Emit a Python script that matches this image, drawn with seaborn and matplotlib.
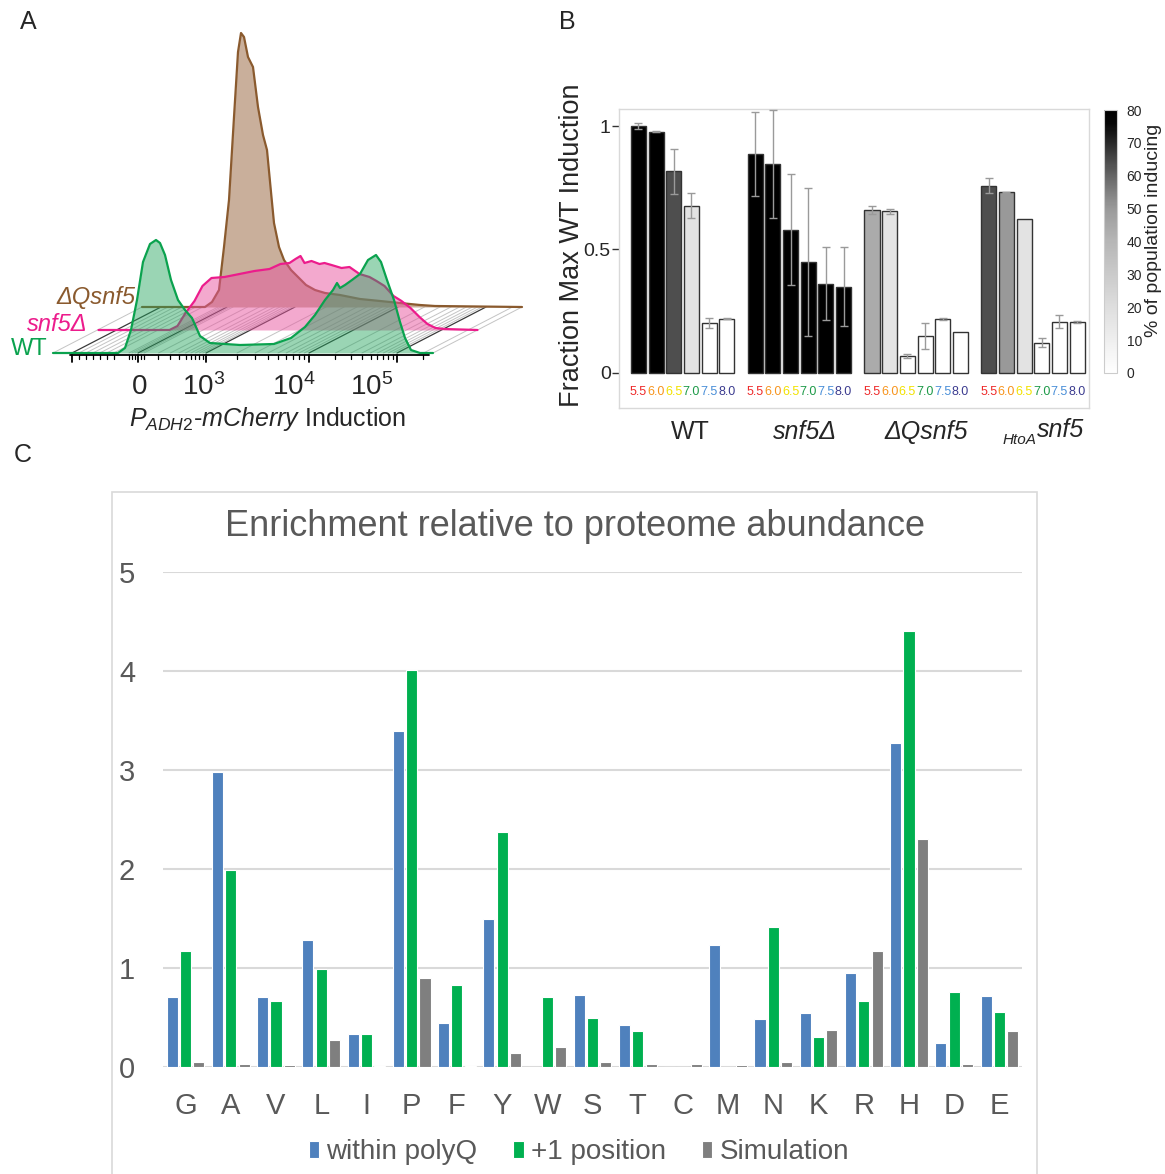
import numpy as np
import pandas as pd
import matplotlib
matplotlib.use("Agg")
import matplotlib.pyplot as plt
import seaborn as sns
from matplotlib.colors import LinearSegmentedColormap, Normalize
from matplotlib.cm import ScalarMappable
from matplotlib.patches import Rectangle

# ---------------- Panel A data (flow histograms, display channel vs. events) ----------------
wt_channel = [0, 65, 72, 78, 84, 90, 97, 103, 107, 112, 118, 125, 132, 139, 147, 157, 187, 221,
              238, 252, 262, 272, 280, 284, 287, 292, 299, 307, 315, 323, 328, 334, 341, 347,
              352, 358, 367, 380]
wt_counts = [0, 0, 5, 23, 53, 91, 109, 113, 110, 98, 73, 53, 43, 35, 17, 10, 8, 9,
             15, 26, 38, 53, 63, 70, 65, 68, 73, 79, 93, 98, 91, 73, 53, 31,
             15, 3, 0, 0]
snf5_channel = [1, 72, 80, 88, 97, 105, 114, 127, 142, 157, 172, 183, 192, 198, 203, 207, 214,
                222, 227, 234, 244, 252, 262, 272, 279, 287, 296, 304, 313, 322, 330, 338, 347, 380]
snf5_counts = [0, 0, 4, 17, 29, 44, 52, 53, 56, 59, 61, 66, 67, 71, 74, 67, 69,
               66, 67, 65, 62, 63, 56, 53, 49, 44, 34, 29, 22, 13, 6, 2, 1, 0]
dq_channel = [0, 63, 70, 77, 82, 87, 92, 96, 99, 102, 106, 111, 116, 121, 125, 129, 132, 137,
              142, 149, 156, 164, 173, 183, 198, 218, 238, 258, 278, 293, 380]
dq_counts = [0, 0, 5, 17, 60, 107, 190, 255, 274, 270, 250, 240, 200, 172, 157, 115, 84, 60,
             47, 37, 30, 22, 17, 14, 12, 8, 6, 4, 2, 1, 0]
strain_labels_A = ["WT", "snf5Δ", "ΔQsnf5"]
tick_labels_A = ["0", r"$10^3$", r"$10^4$", r"$10^5$"]

# ---------------- Panel B data ----------------
strains = ["WT", "snf5Δ", "ΔQsnf5", "HtoA snf5"]
ph_levels = ["5.5", "6.0", "6.5", "7.0", "7.5", "8.0"]
frac_wt = [1.00, 0.977, 0.816, 0.678, 0.204, 0.219]
frac_snf5 = [0.888, 0.846, 0.580, 0.449, 0.362, 0.349]
frac_dq = [0.659, 0.655, 0.070, 0.149, 0.218, 0.164]
frac_htoa = [0.759, 0.731, 0.623, 0.123, 0.208, 0.205]
err_wt = [0.013, 0.003, 0.090, 0.050, 0.020, 0.002]
err_snf5 = [0.170, 0.220, 0.225, 0.300, 0.148, 0.160]
err_dq = [0.017, 0.010, 0.008, 0.053, 0.003, 0.0]
err_htoa = [0.032, 0.003, 0.0, 0.017, 0.026, 0.004]
pct_wt = [80, 80, 64, 17, 0, 0]
pct_snf5 = [80, 80, 80, 80, 80, 80]
pct_dq = [44, 17, 0, 0, 0, 0]
pct_htoa = [64, 50, 17, 0, 0, 0]
cbar_ticks = [0, 10, 20, 30, 40, 50, 60, 70, 80]

# ---------------- Panel C data ----------------
amino_acids = list("GAVLIPFYWSTCMNKRHDE")
series_names = ["within polyQ", "+1 position", "Simulation"]
within_polyq = [0.70, 2.98, 0.70, 1.28, 0.33, 3.39, 0.44, 1.49, 0.0, 0.72, 0.42, 0.0, 1.23,
                0.48, 0.54, 0.95, 3.27, 0.24, 0.71]
plus_one = [1.17, 1.99, 0.66, 0.99, 0.33, 4.01, 0.82, 2.37, 0.70, 0.49, 0.36, 0.0, 0.0,
            1.41, 0.30, 0.66, 4.40, 0.75, 0.55]
simulation = [0.045, 0.03, 0.02, 0.27, 0.01, 0.89, 0.01, 0.135, 0.195, 0.045, 0.03, 0.03, 0.02,
              0.045, 0.37, 1.17, 2.30, 0.03, 0.36]

# ---------------- figure setup ----------------
sns.set_style("white")
plt.rcParams["font.family"] = ["Liberation Sans", "DejaVu Sans"]
plt.rcParams["mathtext.fontset"] = "custom"
plt.rcParams["mathtext.rm"] = "Liberation Sans"
plt.rcParams["mathtext.it"] = "Liberation Sans:italic"
plt.rcParams["mathtext.bf"] = "Liberation Sans:bold"

W, H = 1165, 1174
fig = plt.figure(figsize=(W / 100, H / 100), dpi=100)


def px_rect(x0, y0, x1, y1):
    return [x0 / W, 1 - y1 / H, (x1 - x0) / W, (y1 - y0) / H]


def fx(x):
    return x / W


def fy(y):
    return 1 - y / H


# ================= Panel A =================
axA = fig.add_axes(px_rect(0, 0, 540, 440))
axA.set_xlim(-53, 487)
axA.set_ylim(-87, 353)
axA.axis("off")

DX, DY = 44.5, 23.0
major_ticks = [19, 85, 153, 256, 344]
minor_ticks = []
minor_ticks += [19 + (85 - 19) * k / 9.5 for k in range(1, 7)]
minor_ticks += [85 + d for d in (-9, -6, -3, 3, 6)]
for a, b in [(85, 153), (153, 256), (256, 344)]:
    minor_ticks += [a + (b - a) * np.log10(k) for k in range(2, 10)]
minor_ticks += [344 + 88 * np.log10(2)]

# perspective floor
for t in minor_ticks + [0, 380]:
    axA.plot([t, t + 2 * DX], [0, 2 * DY], color="#c4c4c4", lw=0.7, zorder=1)
for t in major_ticks:
    axA.plot([t, t + 2 * DX], [0, 2 * DY], color="#3a3a3a", lw=0.9, zorder=1)

layers = [
    (dq_channel, dq_counts, 2, "#8a5a2e", "#c6ab96", 0.95),
    (snf5_channel, snf5_counts, 1, "#ec1c8c", "#e8559f", 0.5),
    (wt_channel, wt_counts, 0, "#0aa24e", "#1fa35a", 0.45),
]
for i, (ch, cnt, k, lc, fc, al) in enumerate(layers):
    xs = np.array(ch, dtype=float) + k * DX
    ys = np.array(cnt, dtype=float) + k * DY
    axA.fill_between(xs, k * DY, ys, color=fc, alpha=al, lw=0, zorder=2 + 2 * i)
    sns.lineplot(x=xs, y=ys, color=lc, lw=1.6, ax=axA, estimator=None, sort=False,
                 zorder=3 + 2 * i)

# axis line + ticks
axA.plot([17, 376], [-1.5, -1.5], color="black", lw=1.3, zorder=9)
for t in major_ticks:
    axA.plot([t, t], [-1.5, -9], color="black", lw=1.3, zorder=9)
for t in minor_ticks:
    axA.plot([t, t], [-1.5, -5.5], color="black", lw=0.9, zorder=9)
for lab, xpos in zip(tick_labels_A, [87, 151, 241, 319]):
    axA.text(xpos, -34, lab, ha="center", va="center", fontsize=20)
axA.text(215, -66, r"$\mathit{P}_{\mathit{ADH2}}\text{-}\mathit{mCherry}$ Induction",
         ha="center", va="center", fontsize=18)

axA.text(82, 2 * DY + 10, strain_labels_A[2], color="#8a5a2e", style="italic",
         ha="right", va="center", fontsize=17)
axA.text(35, DY + 6, strain_labels_A[1], color="#ec1c8c", style="italic",
         ha="right", va="center", fontsize=17)
axA.text(-5, 4, strain_labels_A[0], color="#0aa24e", ha="right", va="center", fontsize=17)

# ================= Panel B =================
cmap = LinearSegmentedColormap.from_list(
    "induce",
    [(0.0, "#ffffff"), (0.25, "#dedede"), (0.5, "#b6b6b6"), (0.625, "#9a9a9a"),
     (0.75, "#666666"), (0.875, "#2a2a2a"), (0.95, "#060606"), (1.0, "#000000")])
norm = Normalize(0, 80)

axB = fig.add_axes(px_rect(619, 109, 1089, 408))
dfB = pd.DataFrame({
    "strain": np.repeat(strains, len(ph_levels)),
    "pH": ph_levels * len(strains),
    "frac": frac_wt + frac_snf5 + frac_dq + frac_htoa,
    "err": err_wt + err_snf5 + err_dq + err_htoa,
    "pct": pct_wt + pct_snf5 + pct_dq + pct_htoa,
})
sns.barplot(data=dfB, x="strain", y="frac", hue="pH", order=strains, hue_order=ph_levels,
            errorbar=None, width=0.908, gap=0.15, saturation=1,
            palette={p: "#000000" for p in ph_levels}, legend=False,
            edgecolor="#333333", linewidth=1.0, ax=axB)
bars = sorted(axB.patches, key=lambda p: p.get_x())
centers = []
for bar, pct in zip(bars, dfB["pct"]):
    bar.set_facecolor(cmap(norm(pct)))
    centers.append(bar.get_x() + bar.get_width() / 2)
centers = np.array(centers)
mask = dfB["err"].values > 0
axB.errorbar(centers[mask], dfB["frac"].values[mask], yerr=dfB["err"].values[mask],
             fmt="none", ecolor="#9a9a9a", elinewidth=1, capsize=3, capthick=1, zorder=5)

ph_colors = ["#ee2a2a", "#f7941d", "#f2e200", "#1d9a48", "#4a8fd8", "#3b3b8f"]
for i, c in enumerate(centers):
    axB.text(c, -0.077, ph_levels[i % 6], color=ph_colors[i % 6], ha="center", va="center",
             fontsize=9)

axB.set_xlim(-0.545, 3.48)
axB.set_ylim(-0.142, 1.069)
axB.set_xticks([])
axB.set_yticks([0, 0.5, 1])
axB.set_yticklabels(["0", "0.5", "1"])
axB.tick_params(axis="y", length=5, width=1, color="#333333", labelsize=14, pad=1, left=True)
axB.set_xlabel("")
axB.set_ylabel("")
for s in axB.spines.values():
    s.set_color("#d9d9d9")
    s.set_linewidth(1)

fig.text(fx(572), fy(245), "Fraction Max WT Induction", rotation=90, fontsize=19.5,
         ha="center", va="center")
fig.text(fx(690), fy(432), strains[0], fontsize=18, ha="center", va="center")
fig.text(fx(805), fy(432), strains[1], fontsize=18, ha="center", va="center", style="italic")
fig.text(fx(926), fy(432), strains[2], fontsize=18, ha="center", va="center", style="italic")
fig.text(fx(1037), fy(430), "snf5", fontsize=18, ha="left", va="center", style="italic")
fig.text(fx(1036), fy(440), "HtoA", fontsize=11, ha="right", va="center", style="italic")

cax = fig.add_axes(px_rect(1104, 110, 1117, 373))
cb = fig.colorbar(ScalarMappable(norm=norm, cmap=cmap), cax=cax)
cb.set_ticks(cbar_ticks)
cb.minorticks_off()
cax.tick_params(length=0, labelsize=10, pad=7)
cb.outline.set_edgecolor("#cccccc")
cb.outline.set_linewidth(0.8)
fig.text(fx(1154), fy(230), "% of population inducing", rotation=90, fontsize=14,
         ha="center", va="center")

# ================= Panel C =================
fig.add_artist(Rectangle((fx(112), fy(1190)), (1037 - 112) / W, (1190 - 492) / H,
                         transform=fig.transFigure, fill=False, ec="#d9d9d9", lw=1.2))
axC = fig.add_axes(px_rect(163, 572, 1022, 1066.5))
dfC = pd.DataFrame({
    "aa": amino_acids * 3,
    "series": np.repeat(series_names, len(amino_acids)),
    "value": within_polyq + plus_one + simulation,
})
sns.barplot(data=dfC, x="aa", y="value", hue="series", hue_order=series_names,
            palette=["#4f81bd", "#00b050", "#7f7f7f"], width=0.885, gap=0.17, saturation=1,
            errorbar=None, edgecolor="white", linewidth=0.8, ax=axC)
axC.set_ylim(0, 5)
axC.set_xlim(-0.5, 18.5)
axC.set_yticks([0, 1, 2, 3, 4, 5])
for s in axC.spines.values():
    s.set_visible(False)
axC.yaxis.grid(True, color="#d9d9d9", lw=1.5)
axC.set_axisbelow(True)
axC.set_xlabel("")
axC.set_ylabel("")
axC.tick_params(axis="y", length=0, labelsize=21, pad=20, labelcolor="#595959")
axC.tick_params(axis="x", length=0, labelsize=21, pad=18, labelcolor="#595959")
sns.move_legend(axC, "center", bbox_to_anchor=(0.484, -0.173), ncol=3, frameon=False,
                title=None, fontsize=20, handlelength=0.38, handleheight=0.55,
                handletextpad=0.25, columnspacing=1.3)
for t in axC.get_legend().get_texts():
    t.set_color("#595959")

fig.text(fx(575), fy(526), "Enrichment relative to proteome abundance", fontsize=26,
         color="#595959", ha="center", va="center")

# panel letters
fig.text(fx(20), fy(22), "A", fontsize=18, va="center")
fig.text(fx(559), fy(22), "B", fontsize=18, va="center")
fig.text(fx(14), fy(455), "C", fontsize=18, va="center")

fig.savefig("out.png", dpi=100)
